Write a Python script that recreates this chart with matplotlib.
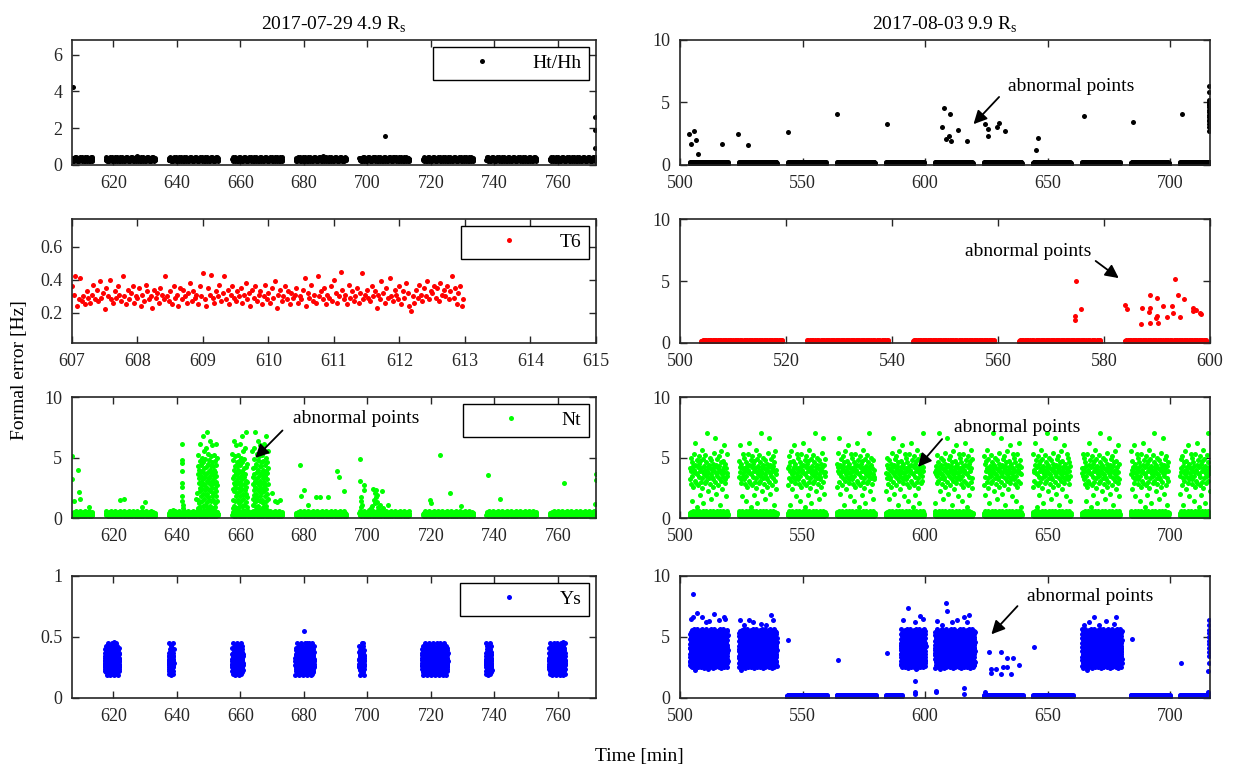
import numpy as np
import matplotlib.pyplot as plt
from matplotlib.ticker import FormatStrFormatter

plt.rcParams['font.family'] = ['Liberation Serif', 'DejaVu Serif']
plt.rcParams['mathtext.fontset'] = 'custom'
plt.rcParams['mathtext.rm'] = 'Liberation Serif'
plt.rcParams['font.size'] = 13

DARK = '#262626'
BLACK, RED, GREEN, BLUE = 'k', '#ff0000', '#00ff00', '#0000ff'

# ---- observation windows [start, end] in min ----
left_win = [(607.0, 613.5), (617.7, 633.2), (637.5, 653.0), (657.5, 673.3), (677.5, 693.3),
            (697.5, 713.3), (717.6, 733.4), (737.5, 753.3), (757.5, 772.0)]
right_win = [(504, 519.5), (524, 539.5), (544, 559.5), (564, 579.5), (584, 599.5), (604, 619.5),
             (624, 639.5), (644, 659.5), (664, 679.5), (684, 699.5), (704, 716.3)]
t6_right_win = [(504, 519.3), (524, 539.3), (544, 559.3), (564, 579.3), (584, 599.3)]
nt_burst_win = [(646.5, 652.8), (657.5, 662.2), (663.8, 668.8)]
ys_left_win = [(617.3, 621.9), (637.4, 639.0), (657.4, 660.8), (677.3, 683.2), (697.4, 699.0),
               (717.2, 725.3), (737.3, 739.1), (757.2, 762.3)]
ys_cloud_win = [(504, 519.5), (524, 539.5), (590, 600.2), (604, 620.3), (664, 680.3)]
ys_low_win = [(543.5, 560), (564, 580), (584, 590.5), (624, 640), (644, 660.3), (684, 700), (704, 716.3)]

# ---- read-off values of the dense bands ----
hh_left_vals = [0.30, 0.27, 0.33, 0.25, 0.36, 0.29, 0.31, 0.24, 0.38, 0.28, 0.32, 0.26, 0.34, 0.30, 0.22,
                0.35, 0.29, 0.27, 0.41, 0.31, 0.25, 0.33, 0.28, 0.36, 0.30, 0.26, 0.32, 0.29, 0.44, 0.27,
                0.23, 0.37, 0.31]
low_vals = [0.15, 0.12, 0.18, 0.10, 0.20, 0.14, 0.16, 0.09, 0.22, 0.13, 0.17, 0.11, 0.19, 0.15, 0.25,
            0.12, 0.16, 0.08, 0.21, 0.14, 0.18, 0.13, 0.27, 0.11]
t6_left_vals = [
    0.36, 0.31, 0.42, 0.24, 0.28, 0.41, 0.27, 0.30, 0.25, 0.33, 0.29, 0.26, 0.31, 0.37, 0.28, 0.34, 0.27, 0.39, 0.29, 0.32,
    0.22, 0.35, 0.30, 0.40, 0.28, 0.26, 0.33, 0.29, 0.36, 0.31, 0.27, 0.42, 0.30, 0.25, 0.34, 0.28, 0.32, 0.36, 0.26, 0.30,
    0.29, 0.35, 0.24, 0.31, 0.27, 0.37, 0.33, 0.28, 0.30, 0.23, 0.34, 0.29, 0.32, 0.26, 0.35, 0.31, 0.28, 0.42, 0.30, 0.27,
    0.33, 0.25, 0.36, 0.29, 0.31, 0.24, 0.35, 0.28, 0.34, 0.30, 0.26, 0.32, 0.38, 0.27, 0.33, 0.29, 0.31, 0.25, 0.36, 0.30,
    0.44, 0.28, 0.24, 0.35, 0.31, 0.43, 0.29, 0.26, 0.33, 0.30, 0.37, 0.27, 0.32, 0.42, 0.28, 0.34, 0.25, 0.31, 0.36, 0.29,
    0.27, 0.33, 0.30, 0.35, 0.26, 0.31, 0.38, 0.28, 0.32, 0.24, 0.34, 0.29, 0.36, 0.27, 0.31, 0.33, 0.25, 0.30, 0.37, 0.28,
    0.32, 0.26, 0.35, 0.29, 0.39, 0.23, 0.31, 0.34, 0.27, 0.30, 0.36, 0.28, 0.33, 0.25, 0.32, 0.29, 0.31, 0.35, 0.26, 0.30,
    0.28, 0.34, 0.41, 0.24, 0.32, 0.29, 0.37, 0.27, 0.31, 0.26, 0.42, 0.30, 0.33, 0.28, 0.35, 0.25, 0.31, 0.29, 0.36, 0.27,
    0.40, 0.32, 0.26, 0.30, 0.45, 0.34, 0.28, 0.31, 0.25, 0.37, 0.29, 0.33, 0.27, 0.30, 0.35, 0.26, 0.32, 0.44, 0.28, 0.31,
    0.34, 0.29, 0.27, 0.36, 0.30, 0.33, 0.23, 0.31, 0.28, 0.39, 0.32, 0.26, 0.35, 0.29, 0.41, 0.30, 0.27, 0.34, 0.31, 0.28,
    0.36, 0.25, 0.33, 0.29, 0.38, 0.32, 0.24, 0.21, 0.30, 0.26, 0.34, 0.29, 0.37, 0.31, 0.27, 0.35, 0.30, 0.39, 0.28, 0.33,
    0.32, 0.36, 0.29, 0.35, 0.27, 0.38, 0.31, 0.34, 0.30, 0.36, 0.28, 0.33, 0.42, 0.29, 0.35, 0.25, 0.32, 0.36, 0.24, 0.28]
nt_low_vals = [0.30, 0.22, 0.38, 0.27, 0.45, 0.19, 0.33, 0.25, 0.41, 0.29, 0.35, 0.21, 0.50, 0.31, 0.26,
               0.37, 0.24, 0.43, 0.28, 0.34, 0.18, 0.39, 0.32, 0.55, 0.23, 0.36, 0.27, 0.30]
nt_cloud_vals = [
    4.1, 3.2, 5.0, 2.8, 3.9, 4.6, 1.4, 3.5, 4.3, 2.6, 5.3, 3.8, 4.0, 3.1, 6.2, 4.4, 2.9, 3.7, 4.8, 0.9,
    3.6, 4.2, 2.7, 5.1, 3.4, 4.5, 1.9, 3.9, 4.7, 3.0, 4.1, 5.6, 2.5, 3.3, 4.9, 3.8, 1.2, 4.3, 3.6, 4.0,
    2.9, 5.2, 3.5, 4.6, 3.1, 7.0, 3.9, 4.2, 2.2, 3.7, 4.4, 3.3, 5.0, 2.8, 4.1, 3.6, 1.6, 4.8, 3.4, 4.0,
    3.2, 4.5, 2.6, 5.4, 3.9, 4.2, 3.0, 6.6, 3.7, 4.4, 2.0, 3.5, 4.9, 3.8, 4.1, 2.7, 5.1, 3.3, 4.3, 1.1,
    3.9, 4.6, 3.1, 5.5, 3.6, 4.0, 2.4, 4.7, 3.4, 4.2, 3.8, 6.0, 2.9, 4.5, 3.2, 1.8, 4.1, 3.7, 5.3, 3.5]
nt_burst_vals = [
    2.1, 4.3, 0.8, 3.6, 1.5, 5.2, 2.9, 0.6, 4.0, 3.3, 1.2, 2.5, 4.7, 3.8, 0.9, 6.1, 2.2, 3.0, 1.8, 4.4,
    3.5, 0.5, 2.7, 5.0, 1.4, 3.9, 2.4, 6.8, 1.0, 3.2, 4.6, 2.0, 0.7, 3.7, 5.5, 1.6, 2.8, 4.1, 3.4, 1.1,
    4.9, 2.3, 0.6, 3.6, 1.9, 5.8, 2.6, 4.2, 1.3, 3.1, 7.1, 2.0, 0.9, 4.5, 3.0, 1.7, 3.8, 5.3, 2.4, 0.8,
    3.3, 4.8, 1.5, 2.9, 6.4, 1.0, 4.0, 2.2, 3.5, 0.7, 5.1, 2.7, 1.4, 4.3, 3.1, 6.0, 1.8, 3.7, 2.5, 4.6]
ys_left_vals = [
    0.30, 0.25, 0.34, 0.22, 0.28, 0.37, 0.31, 0.26, 0.40, 0.29, 0.24, 0.33, 0.27, 0.35, 0.21, 0.30, 0.38, 0.26, 0.32, 0.28,
    0.43, 0.25, 0.31, 0.36, 0.23, 0.29, 0.34, 0.27, 0.30, 0.19, 0.33, 0.26, 0.39, 0.28, 0.31, 0.24, 0.35, 0.29, 0.27, 0.32,
    0.22, 0.36, 0.30, 0.25, 0.41, 0.28, 0.33, 0.26, 0.30, 0.37, 0.24, 0.31, 0.28, 0.34, 0.20, 0.29, 0.45, 0.27, 0.32, 0.30]
ys_cloud_vals = [
    4.12, 3.05, 4.83, 2.71, 4.46, 3.62, 5.24, 3.37, 4.08, 2.93, 5.41, 3.84, 4.57, 3.02, 4.26, 3.51, 4.94, 2.64, 3.97, 4.61,
    3.23, 5.06, 3.74, 4.35, 2.86, 5.47, 3.42, 4.03, 3.15, 4.72, 3.66, 5.58, 2.52, 4.18, 3.91, 5.13, 3.07, 4.44, 3.29, 4.88,
    2.77, 4.21, 3.83, 5.33, 3.19, 4.66, 3.48, 4.01, 2.97, 5.02, 3.71, 4.31, 5.62, 3.11, 4.53, 3.39, 5.28, 2.61, 4.14, 3.86,
    4.92, 3.04, 4.41, 3.57, 5.51, 2.83, 4.24, 3.31, 4.76, 3.94, 2.43, 5.17, 3.53, 4.06, 3.21, 4.63, 5.44, 3.69, 4.33, 2.91,
    5.01, 3.43, 4.16, 3.81, 5.36, 3.13, 4.51, 2.73, 4.85, 3.64, 4.23, 3.01, 5.22, 3.96, 4.38, 3.34, 5.67, 2.81, 4.11, 3.59,
    4.47, 2.98, 3.77, 5.09, 3.26, 4.69, 2.56, 4.29, 3.89, 5.31, 3.45, 4.02, 2.88, 4.79, 3.17, 5.53, 3.74, 4.36, 2.67, 4.97]

# ---- isolated points ----
hh_left_x = [607.2, 705.5, 771.8, 771.8, 771.8, 627.5, 686.0, 702.0, 708.0]
hh_left_y = [4.25, 1.6, 2.6, 1.9, 0.9, 0.48, 0.47, 0.46, 0.45]
hh_right_x = [503.7, 504.7, 505.7, 506.6, 507.3, 517.3, 523.5, 527.6, 544.2, 564.2, 584.5, 606.8, 607.6,
              608.6, 609.6, 610.0, 610.5, 613.3, 617.3, 624.6, 625.7, 625.7, 629.4, 630.3, 632.7, 645.3,
              646.1, 665.0, 684.8, 705.0,
              715.8, 715.8, 715.8, 715.8, 715.8, 715.8, 715.8, 715.8, 715.8, 715.8, 715.8, 715.8, 715.8,
              715.8, 715.8, 715.8]
hh_right_y = [2.5, 1.65, 2.75, 2.0, 0.9, 1.65, 2.45, 1.6, 2.65, 4.05, 3.25, 3.05, 4.55,
              2.05, 2.3, 4.05, 1.95, 2.8, 1.95, 3.3, 2.85, 2.35, 3.05, 3.35, 2.75, 1.2,
              2.15, 3.9, 3.45, 4.1,
              2.7, 3.0, 3.3, 3.5, 3.8, 4.0, 4.2, 4.4, 4.6, 4.8, 5.0, 5.2, 5.8, 6.3, 3.6, 4.9]
t6_right_x = [574.7, 574.6, 574.5, 575.6, 584.0, 584.3, 587.2, 587.0, 588.7, 588.6, 588.5, 588.7, 590.0,
              590.0, 589.8, 590.2, 591.2, 591.8, 592.9, 593.0, 593.4, 594.0, 594.3, 595.1, 596.7, 596.8,
              597.4, 598.2, 598.3]
t6_right_y = [5.0, 2.2, 1.85, 2.75, 3.1, 2.75, 2.8, 1.55, 3.9, 2.8, 2.5, 1.6, 3.65,
              2.15, 2.0, 1.6, 2.95, 2.1, 2.95, 2.4, 5.15, 3.85, 2.1, 3.55, 2.8, 2.6,
              2.65, 2.4, 2.3]
nt_left_x = [607.0, 607.0, 607.6, 608.9, 609.3, 609.6, 612.4, 622.2, 623.5, 629.2, 630.1, 638.9,
             641.6, 641.6, 641.6, 641.6, 641.6, 641.6, 641.6, 641.6, 641.8, 641.8, 642.3, 646.0,
             670.1, 671.0, 671.6, 672.4,
             678.7, 679.2, 680.2, 681.2, 683.9, 685.2, 687.7, 690.5, 691.1, 692.6,
             697.8, 697.8, 699.0, 699.0, 698.0, 698.3, 698.0, 698.0,
             701.8, 702.3, 702.6, 703.2, 704.5, 703.0, 702.0, 701.5, 703.5, 704.0, 705.0, 706.5, 702.8,
             701.2, 700.5, 702.4, 703.8,
             719.8, 720.2, 723.0, 726.1, 729.6, 738.0, 741.8, 762.0, 772.0, 772.0, 771.7]
nt_left_y = [5.15, 3.2, 1.4, 4.0, 2.15, 1.55, 0.9, 1.5, 1.6, 0.95, 1.35, 0.7,
             6.1, 4.8, 4.55, 3.85, 2.9, 2.6, 1.8, 1.4, 1.1, 0.8, 0.6, 1.55,
             2.1, 1.4, 1.3, 1.5,
             4.4, 1.8, 2.3, 1.1, 1.7, 1.7, 1.7, 3.85, 3.35, 2.2,
             4.9, 3.05, 2.75, 2.3, 1.4, 1.1, 1.7, 0.9,
             2.4, 2.1, 1.7, 1.3, 2.2, 1.9, 1.5, 1.0, 0.9, 1.1, 0.8, 1.1, 2.3,
             0.8, 0.7, 1.2, 0.7,
             1.45, 1.2, 5.25, 2.05, 1.0, 3.55, 1.55, 2.9, 3.6, 3.15, 1.15]
ys_left_x = [680.0, 680.9, 698.6, 761.5, 759.3, 620.2]
ys_left_y = [0.55, 0.45, 0.45, 0.46, 0.44, 0.46]
ys_right_x = [505.3, 544.0, 564.3, 584.5, 596.0, 596.0, 596.0, 596.3, 604.5, 604.5, 615.8, 615.8,
              624.4, 626.3, 627.1, 626.8, 628.9, 631.2, 631.2, 632.0, 633.6, 633.6, 636.0, 635.2,
              638.5, 644.5, 684.6, 704.4, 715.3, 715.8, 715.8, 715.8, 715.8, 715.8, 715.8, 715.8,
              715.8, 715.8, 715.8, 715.8, 715.6,
              504.5, 505.5, 507.0, 509.0, 510.5, 512.0, 514.0, 516.0, 518.0, 518.5, 506.0, 511.5,
              524.5, 526.0, 528.0, 530.0, 533.0, 535.0, 537.0, 538.0, 531.5, 525.0,
              591.0, 593.0, 596.0, 598.0, 599.0, 592.0, 596.4,
              605.0, 607.0, 608.5, 609.0, 611.0, 613.0, 616.0, 618.0, 617.0, 606.0, 614.5,
              665.0, 667.0, 669.0, 671.0, 674.0, 677.0, 678.0, 672.5, 666.0]
ys_right_y = [8.55, 4.75, 3.1, 3.7, 1.4, 0.5, 0.3, 2.6, 0.6, 0.45, 0.8, 0.35,
              0.5, 3.8, 2.4, 2.05, 2.4, 3.8, 1.95, 2.55, 2.5, 3.3, 3.25, 1.95,
              2.7, 4.2, 4.85, 2.85, 2.2, 2.9, 3.4, 3.8, 4.1, 4.4, 4.7, 5.0, 5.3,
              5.6, 6.0, 6.4, 0.5,
              6.5, 6.6, 7.0, 6.6, 6.2, 6.3, 6.9, 6.4, 6.6, 6.5, 2.3, 2.4,
              6.4, 6.0, 6.4, 6.2, 6.1, 6.0, 6.8, 6.4, 2.6, 2.3,
              6.4, 7.35, 6.2, 6.7, 6.5, 2.6, 2.35,
              6.3, 6.0, 7.8, 7.1, 6.2, 6.4, 6.6, 6.8, 6.2, 2.35, 2.5,
              6.0, 6.2, 6.6, 6.0, 6.3, 6.1, 6.6, 2.5, 2.3]


def dots(ax, x, y, color):
    return ax.plot(x, y, 'o', ms=3.6, mew=0, color=color, linestyle='none')[0]


def fill_windows(ax, windows, vals, step, color, shift=7):
    line = None
    for i, (a, b) in enumerate(windows):
        t = np.arange(a, b, step)
        v = np.resize(np.roll(vals, shift * i), t.size)
        line = dots(ax, t, v, color)
    return line


def style(ax, xlim, xticks, ylim, yticks):
    ax.set_xlim(*xlim)
    ax.set_ylim(*ylim)
    ax.set_xticks(xticks)
    ax.set_yticks(yticks)
    ax.yaxis.set_major_formatter(FormatStrFormatter('%g'))
    ax.tick_params(direction='in', top=True, right=True, length=5, width=1.0,
                   colors=DARK, labelsize=13, pad=7)
    for sp in ax.spines.values():
        sp.set_linewidth(1.2)
        sp.set_color(DARK)


def add_legend(ax, handle, label):
    ax.legend([handle], [label], loc='upper right', fancybox=False, edgecolor='k',
              framealpha=1, fontsize=14, handlelength=4.2, handletextpad=0.5,
              borderpad=0.4, borderaxespad=0.35)


def abnormal(ax, text_xy, ha, tail, tip):
    ax.text(text_xy[0], text_xy[1], 'abnormal points', ha=ha, va='center', fontsize=14)
    ax.annotate('', xy=tip, xytext=tail,
                arrowprops=dict(arrowstyle='-|>', color='k', lw=1.3, mutation_scale=20))


fig = plt.figure(figsize=(12.37, 7.72), dpi=100)
lx, lw = 0.0582, 0.4236
rx, rw = 0.5497, 0.4285
rows = [(0.7863, 0.162), (0.5557, 0.1606), (0.329, 0.1567), (0.0959, 0.158)]

# row 1: Ht/Hh
ax = fig.add_axes([lx, rows[0][0], lw, rows[0][1]])
h = fill_windows(ax, left_win, hh_left_vals, 0.05, BLACK)
dots(ax, hh_left_x, hh_left_y, BLACK)
style(ax, (607, 772), np.arange(620, 761, 20), (0, 6.8), [0, 2, 4, 6])
add_legend(ax, h, 'Ht/Hh')
ax.set_title(r'2017-07-29 4.9 R$_\mathrm{s}$', fontsize=14, pad=7)

ax = fig.add_axes([rx, rows[0][0], rw, rows[0][1]])
fill_windows(ax, right_win, low_vals, 0.06, BLACK)
dots(ax, hh_right_x, hh_right_y, BLACK)
style(ax, (500, 716.3), [500, 550, 600, 650, 700], (0, 10), [0, 5, 10])
abnormal(ax, (634, 6.3), 'left', (631, 5.6), (619, 3.1))
ax.set_title(r'2017-08-03 9.9 R$_\mathrm{s}$', fontsize=14, pad=7)

# row 2: T6
ax = fig.add_axes([lx, rows[1][0], lw, rows[1][1]])
t6_t = np.arange(len(t6_left_vals)) * 0.025 + 607.0
h = dots(ax, t6_t, t6_left_vals, RED)
style(ax, (607, 615), np.arange(607, 616, 1), (0.015, 0.77), [0.2, 0.4, 0.6])
add_legend(ax, h, 'T6')

ax = fig.add_axes([rx, rows[1][0], rw, rows[1][1]])
fill_windows(ax, t6_right_win, low_vals, 0.04, RED)
dots(ax, t6_right_x, t6_right_y, RED)
style(ax, (500, 600), [500, 520, 540, 560, 580, 600], (0, 10), [0, 5, 10])
abnormal(ax, (577.7, 7.4), 'right', (578, 6.75), (583.2, 5.1))

# row 3: Nt
ax = fig.add_axes([lx, rows[2][0], lw, rows[2][1]])
h = fill_windows(ax, left_win, nt_low_vals, 0.05, GREEN)
fill_windows(ax, nt_burst_win, nt_burst_vals, 0.06, GREEN, shift=23)
dots(ax, nt_left_x, nt_left_y, GREEN)
style(ax, (607, 772), np.arange(620, 761, 20), (0, 10), [0, 5, 10])
add_legend(ax, h, 'Nt')
abnormal(ax, (676.6, 8.2), 'left', (673.9, 7.4), (664.1, 4.8))

ax = fig.add_axes([rx, rows[2][0], rw, rows[2][1]])
fill_windows(ax, right_win, nt_low_vals, 0.05, GREEN)
fill_windows(ax, right_win, nt_cloud_vals, 0.155, GREEN, shift=13)
style(ax, (500, 716.3), [500, 550, 600, 650, 700], (0, 10), [0, 5, 10])
abnormal(ax, (611.7, 7.5), 'left', (607.7, 6.7), (596.4, 4.05))

# row 4: Ys
ax = fig.add_axes([lx, rows[3][0], lw, rows[3][1]])
h = fill_windows(ax, ys_left_win, ys_left_vals, 0.02, BLUE, shift=11)
dots(ax, ys_left_x, ys_left_y, BLUE)
style(ax, (607, 772), np.arange(620, 761, 20), (0, 1), [0, 0.5, 1])
add_legend(ax, h, 'Ys')

ax = fig.add_axes([rx, rows[3][0], rw, rows[3][1]])
fill_windows(ax, ys_cloud_win, ys_cloud_vals, 0.03, BLUE, shift=17)
fill_windows(ax, ys_low_win, low_vals, 0.05, BLUE)
dots(ax, ys_right_x, ys_right_y, BLUE)
style(ax, (500, 716.3), [500, 550, 600, 650, 700], (0, 10), [0, 5, 10])
abnormal(ax, (641.7, 8.35), 'left', (638.5, 7.7), (626.3, 5.05))

fig.text(0.016, 0.52, 'Formal error [Hz]', rotation=90, ha='center', va='center', fontsize=14)
fig.text(0.517, 0.02, 'Time [min]', ha='center', va='center', fontsize=14)

fig.savefig('out.png', dpi=100)
